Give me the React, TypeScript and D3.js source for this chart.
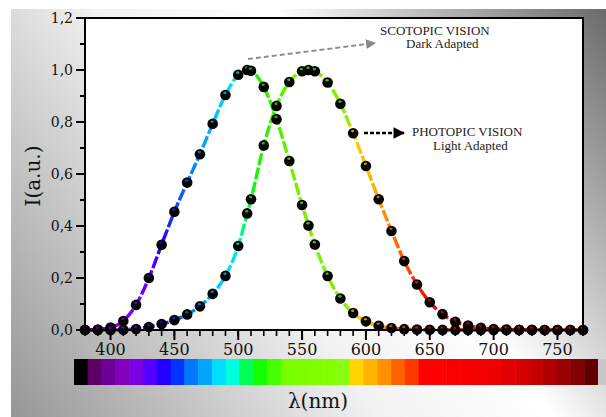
import React from "react";
import * as d3 from "d3";

const W = 606;
const H = 417;

// Wavelengths sampled (nm)
const wavelengths = [380, 390, 400, 410, 420, 430, 440, 450, 460, 470, 480, 490, 500, 507, 510, 520, 530, 540, 550, 555, 560, 570, 580, 590, 600, 610, 620, 630, 640, 650, 660, 670, 680, 690, 700, 710, 720, 730, 740, 750, 760, 770];

// Scotopic (dark adapted) relative intensity
const scotopic = [0.0006, 0.0022, 0.0093, 0.0348, 0.0966, 0.1998, 0.3281, 0.455, 0.567, 0.676, 0.793, 0.904, 0.982, 1.0, 0.997, 0.935, 0.811, 0.65, 0.481, 0.402, 0.3288, 0.2076, 0.1212, 0.0655, 0.0332, 0.0159, 0.0074, 0.0033, 0.0015, 0.0007, 0.0003, 0.0001, 0.0001, 0, 0, 0, 0, 0, 0, 0, 0, 0];

// Photopic (light adapted) relative intensity
const photopic = [0.0, 0.0001, 0.0004, 0.0012, 0.004, 0.0116, 0.023, 0.038, 0.06, 0.091, 0.139, 0.208, 0.323, 0.4485, 0.503, 0.71, 0.862, 0.954, 0.995, 1.0, 0.995, 0.952, 0.87, 0.757, 0.631, 0.503, 0.381, 0.265, 0.175, 0.107, 0.061, 0.032, 0.017, 0.0082, 0.0041, 0.0021, 0.001, 0.0005, 0.0002, 0.0001, 0.0001, 0.0];

const yTicks = [0, 0.2, 0.4, 0.6, 0.8, 1.0, 1.2];
const yMinorTicks = [0.1, 0.3, 0.5, 0.7, 0.9, 1.1];
const xTicks = [400, 450, 500, 550, 600, 650, 700, 750];
const xMinorTicks = d3.range(380, 771, 10);

// spectral colours along the curves
const lineStopsNm = [380, 400, 410, 425, 440, 450, 460, 475, 490, 500, 505, 515, 530, 540, 585, 590, 600, 610, 620, 635, 650, 770];
const lineStopsColor = ["#6a0090", "#8000cc", "#8a00ff", "#6a00ff", "#2a00ff", "#1040ff", "#0070ff", "#00a8ff", "#00d4ff", "#00eee0", "#00ff60", "#22f000", "#40f000", "#78f000", "#82f000", "#ffd000", "#ffc000", "#ffa000", "#ff7800", "#ff4000", "#ff0000", "#ff0000"];

// colour bar blocks
const colorBar = ["#000000", "#5c0066", "#6e0099", "#8000bb", "#7a00e6", "#5500ff", "#2200ff", "#0033ff", "#0077ff", "#00a5ff", "#00ddff", "#00ffdd", "#00ff55", "#11ff00", "#44ff00", "#77ff00", "#7dff00", "#80ff00", "#84ff00", "#88ff10", "#ffd500", "#ffb400", "#ff9000", "#ff6000", "#ff3800", "#ff0000", "#ff0000", "#fb0000", "#f70000", "#f30000", "#ec0000", "#e20000", "#d60000", "#c60000", "#b20000", "#9c0000", "#820000", "#620000"];

const M = { left: 85, right: 583, top: 18, bottom: 330 };

export default function App() {
  const x = d3.scaleLinear().domain([380, 770]).range([M.left, M.right]);
  const y = d3.scaleLinear().domain([0, 1.2]).range([M.bottom, M.top]);
  const colorAt = d3.scaleLinear<string>().domain(lineStopsNm).range(lineStopsColor).clamp(true);
  const bar = d3.scaleBand<number>().domain(d3.range(colorBar.length)).range([74, 598]);

  const line = d3
    .line<number>()
    .x((_, i) => x(wavelengths[i]))
    .y((v) => y(v))
    .curve(d3.curveMonotoneX);

  const serif = "DejaVu Serif";
  const annot = "Liberation Serif";

  const renderPoints = (vals: number[], key: string) =>
    vals.map((v, i) => {
      const cx = x(wavelengths[i]);
      const cy = y(v);
      return (
        <g key={key + i}>
          <circle cx={cx} cy={cy} r={5.3} fill="#030303" />
          <ellipse cx={cx - 0.5} cy={cy - 2.2} rx={1.6} ry={1.2} fill={colorAt(wavelengths[i])} opacity={0.75} />
        </g>
      );
    });

  return (
    <svg width={W} height={H} style={{ position: "absolute", left: 0, top: 0 }}>
      <defs>
        <linearGradient id="bg" gradientUnits="userSpaceOnUse" x1={11} y1={417} x2={606} y2={9}>
          <stop offset="0" stopColor="#969696" />
          <stop offset="0.42" stopColor="#f2f2f2" />
          <stop offset="0.62" stopColor="#ffffff" />
          <stop offset="1" stopColor="#6a6a6a" />
        </linearGradient>
        <linearGradient id="spec" gradientUnits="userSpaceOnUse" x1={x(380)} y1={0} x2={x(770)} y2={0}>
          {lineStopsNm.map((nm, i) => (
            <stop key={nm} offset={(nm - 380) / 390} stopColor={lineStopsColor[i]} />
          ))}
        </linearGradient>
        <marker id="arrGrey" viewBox="0 0 10 10" refX="9" refY="5" markerWidth="5" markerHeight="5" orient="auto" markerUnits="strokeWidth">
          <path d="M0,0 L10,5 L0,10 z" fill="#8a8a8a" />
        </marker>
        <marker id="arrBlack" viewBox="0 0 10 10" refX="9" refY="5" markerWidth="4.5" markerHeight="4.5" orient="auto" markerUnits="strokeWidth">
          <path d="M0,0 L10,5 L0,10 z" fill="#000" />
        </marker>
      </defs>

      <rect x={0} y={0} width={W} height={H} fill="#ffffff" />
      <rect x={11} y={9} width={W - 11} height={H - 9} fill="url(#bg)" />

      {/* plot area */}
      <rect x={M.left} y={M.top} width={M.right - M.left} height={M.bottom - M.top} fill="#ffffff" />

      {/* curves */}
      <path d={line(scotopic) || ""} fill="none" stroke="url(#spec)" strokeWidth={3.4} strokeDasharray="12 2.5" />
      <path d={line(photopic) || ""} fill="none" stroke="url(#spec)" strokeWidth={3.4} strokeDasharray="12 2.5" />

      {/* annotations */}
      <line x1={248} y1={59} x2={375} y2={43} stroke="#8a8a8a" strokeWidth={2} strokeDasharray="5 3" markerEnd="url(#arrGrey)" />
      <line x1={364} y1={133} x2={404} y2={133} stroke="#000" strokeWidth={2.6} strokeDasharray="4 2" markerEnd="url(#arrBlack)" />

      {renderPoints(scotopic, "s")}
      {renderPoints(photopic, "p")}

      {/* frame */}
      <rect x={M.left} y={M.top} width={M.right - M.left} height={M.bottom - M.top} fill="none" stroke="#000" strokeWidth={2} />

      {/* y axis ticks */}
      {yTicks.map((t) => (
        <g key={"yt" + t}>
          <line x1={M.left - 9} x2={M.left} y1={y(t)} y2={y(t)} stroke="#000" strokeWidth={2} />
          <text x={M.left - 12} y={y(t)} dy="0.35em" textAnchor="end" fontFamily={serif} fontSize={14} fill="#111">
            {t.toFixed(1).replace(".", ",")}
          </text>
        </g>
      ))}
      {yMinorTicks.map((t) => (
        <line key={"ym" + t} x1={M.left - 5} x2={M.left} y1={y(t)} y2={y(t)} stroke="#000" strokeWidth={2} />
      ))}

      {/* x axis ticks */}
      {xMinorTicks.map((t) => (
        <line key={"xm" + t} x1={x(t)} x2={x(t)} y1={M.bottom} y2={M.bottom + 6} stroke="#000" strokeWidth={1.6} />
      ))}
      {xTicks.map((t) => (
        <g key={"xt" + t}>
          <line x1={x(t)} x2={x(t)} y1={M.bottom} y2={M.bottom + 10} stroke="#000" strokeWidth={2} />
          <text x={x(t)} y={355} textAnchor="middle" fontFamily={serif} fontSize={16} fill="#111">
            {t}
          </text>
        </g>
      ))}

      {/* colour bar */}
      {colorBar.map((c, i) => (
        <rect key={"cb" + i} x={bar(i)} y={359} width={(bar.bandwidth() || 0) + 0.5} height={26} fill={c} />
      ))}
      <rect x={598} y={359} width={8} height={26} fill="#c8c8c8" />

      {/* axis titles */}
      <text x={318} y={408} textAnchor="middle" fontFamily={serif} fontSize={20} fill="#111">
        λ(nm)
      </text>
      <text transform="translate(40,176) rotate(-90)" textAnchor="middle" fontFamily={serif} fontSize={20} fill="#111">
        I(a.u.)
      </text>

      <text x={380} y={34.5} fontFamily={annot} fontSize={13} fill="#222">SCOTOPIC VISION</text>
      <text x={406} y={48} fontFamily={annot} fontSize={13} fill="#222">Dark Adapted</text>
      <text x={412} y={135.5} fontFamily={annot} fontSize={13} fill="#222">PHOTOPIC VISION</text>
      <text x={433} y={149.5} fontFamily={annot} fontSize={13} fill="#222">Light Adapted</text>
    </svg>
  );
}
